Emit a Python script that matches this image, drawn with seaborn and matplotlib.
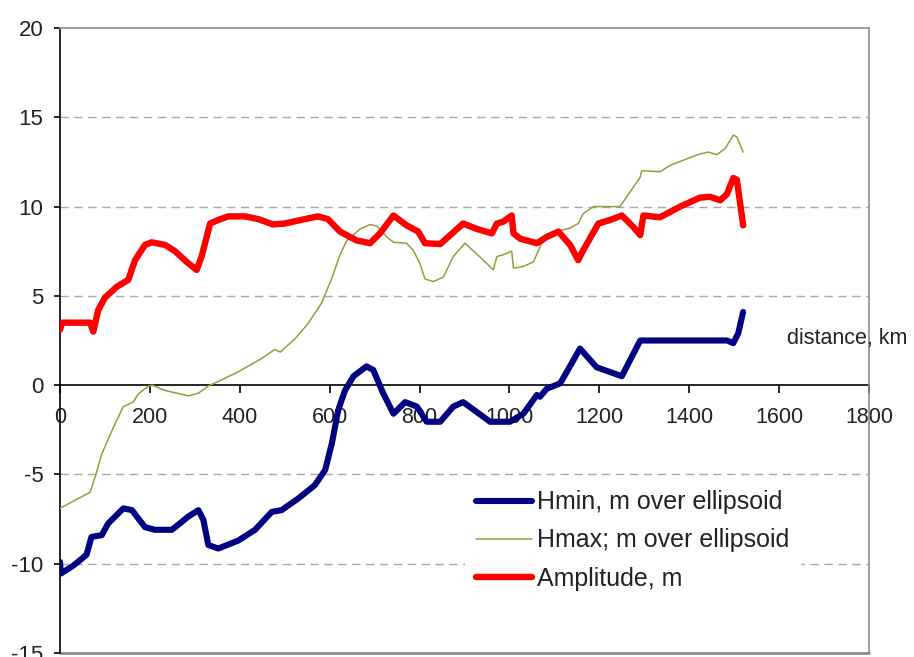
import matplotlib
matplotlib.use("Agg")
import matplotlib.pyplot as plt
import seaborn as sns
import pandas as pd

# ---- data ----
amp_x = [0, 5, 67, 74, 85, 100, 126, 152, 167, 189, 204, 234, 256, 282, 304, 315, 334, 352, 374, 412,
         441, 474, 500, 545, 574, 596, 623, 660, 690, 712, 742, 771, 797, 812, 846, 897, 927, 961, 972,
         986, 1005, 1009, 1024, 1061, 1083, 1109, 1135, 1153, 1164, 1198, 1224, 1250, 1276, 1291, 1298,
         1335, 1380, 1424, 1446, 1469, 1484, 1498, 1506, 1520]
amp_y = [3.1, 3.5, 3.5, 3.0, 4.2, 4.9, 5.5, 5.9, 7.0, 7.85, 8.0, 7.85, 7.5, 6.9, 6.45, 7.2, 9.05, 9.25,
         9.45, 9.45, 9.3, 9.0, 9.05, 9.3, 9.45, 9.3, 8.6, 8.1, 7.95, 8.5, 9.5, 8.95, 8.6, 7.95, 7.9, 9.05,
         8.75, 8.5, 9.05, 9.15, 9.5, 8.5, 8.2, 7.95, 8.3, 8.6, 7.85, 7.0, 7.55, 9.05, 9.25, 9.5, 8.85, 8.4,
         9.5, 9.4, 10.0, 10.5, 10.55, 10.35, 10.7, 11.6, 11.5, 8.95]

hmax_x = [0, 33, 67, 78, 93, 119, 141, 163, 174, 197, 205, 234, 286, 308, 330, 360, 397, 449, 478, 490,
          523, 552, 582, 605, 623, 638, 668, 690, 705, 727, 742, 771, 786, 801, 812, 831, 853, 875, 901,
          927, 950, 964, 972, 986, 1005, 1009, 1031, 1053, 1072, 1105, 1135, 1153, 1164, 1187, 1246, 1291,
          1294, 1305, 1335, 1357, 1387, 1424, 1443, 1461, 1480, 1498, 1506, 1520]
hmax_y = [-6.9, -6.45, -6.0, -5.15, -3.85, -2.35, -1.2, -0.95, -0.5, -0.05, 0.0, -0.3, -0.6, -0.45, -0.05,
          0.3, 0.75, 1.5, 2.0, 1.85, 2.6, 3.45, 4.6, 6.0, 7.3, 8.1, 8.75, 9.0, 8.9, 8.3, 8.0, 7.95, 7.55, 6.8,
          5.95, 5.8, 6.05, 7.2, 7.95, 7.35, 6.8, 6.45, 7.2, 7.3, 7.5, 6.55, 6.65, 6.9, 7.95, 8.6, 8.8, 9.05,
          9.6, 10.0, 10.0, 11.65, 12.0, 12.0, 11.95, 12.3, 12.6, 12.95, 13.05, 12.9, 13.25, 14.0, 13.9, 13.05]

hmin_x = [0, 2, 30, 59, 70, 93, 107, 141, 160, 189, 211, 249, 286, 308, 319, 330, 352, 397, 434, 471,
          493, 530, 567, 590, 605, 619, 634, 653, 682, 697, 719, 742, 768, 794, 816, 846, 875, 897, 927,
          957, 1001, 1031, 1061, 1068, 1083, 1113, 1157, 1194, 1250, 1291, 1484, 1498, 1509, 1520]
hmin_y = [-9.9, -10.55, -10.1, -9.5, -8.5, -8.4, -7.75, -6.9, -7.0, -7.95, -8.1, -8.1, -7.35, -7.0, -7.55,
          -8.95, -9.15, -8.7, -8.1, -7.1, -7.0, -6.35, -5.6, -4.75, -3.25, -1.4, -0.3, 0.5, 1.05, 0.85,
          -0.45, -1.6, -0.95, -1.2, -2.05, -2.05, -1.2, -0.95, -1.5, -2.05, -2.05, -1.6, -0.55, -0.65,
          -0.2, 0.1, 2.05, 1.0, 0.5, 2.5, 2.5, 2.35, 2.9, 4.1]

x_ticks = [0, 200, 400, 600, 800, 1000, 1200, 1400, 1600, 1800]
y_ticks = [-15, -10, -5, 0, 5, 10, 15, 20]
labels = ["Hmin, m over ellipsoid", "Hmax; m over ellipsoid", "Amplitude, m"]
x_label = "distance, km"

# ---- style ----
sns.set_theme(style="white")
plt.rcParams["font.family"] = ["Liberation Sans", "DejaVu Sans"]
plt.rcParams["axes.unicode_minus"] = False

fig = plt.figure(figsize=(9.14, 6.57), dpi=100)
ax = fig.add_axes([60 / 914, 4 / 657, 809 / 914, 625 / 657])

c_min, c_max, c_amp = "#000080", "#9a9a3c", "#FF0000"

df_min = pd.DataFrame({"x": hmin_x, "y": hmin_y})
df_max = pd.DataFrame({"x": hmax_x, "y": hmax_y})
df_amp = pd.DataFrame({"x": amp_x, "y": amp_y})

sns.lineplot(data=df_min, x="x", y="y", ax=ax, color=c_min, lw=4.4, sort=False,
             estimator=None, label=labels[0], zorder=3)
sns.lineplot(data=df_max, x="x", y="y", ax=ax, color=c_max, lw=1.1, sort=False,
             estimator=None, label=labels[1], zorder=3)
sns.lineplot(data=df_amp, x="x", y="y", ax=ax, color=c_amp, lw=4.6, sort=False,
             estimator=None, label=labels[2], zorder=3)

ax.set_xlim(0, 1800)
ax.set_ylim(-15, 20)
ax.set_xticks(x_ticks)
ax.set_yticks(y_ticks)
ax.set_xlabel("")
ax.set_ylabel("")

# gridlines (dashed) except at 0
for yv in y_ticks:
    if yv not in (0, -15, 20):
        ax.axhline(yv, color="#a8a8a8", lw=1.0, ls=(0, (6, 4)), zorder=1)

# spines
ax.spines["left"].set_color("black")
ax.spines["left"].set_linewidth(1.2)
ax.spines["bottom"].set_position(("data", 0))
ax.spines["bottom"].set_color("black")
ax.spines["bottom"].set_linewidth(1.2)
ax.spines["bottom"].set_zorder(2)
for s in ("top", "right"):
    ax.spines[s].set_color("#8c8c8c")
    ax.spines[s].set_linewidth(1.2)
ax.axhline(-15, color="#8c8c8c", lw=2.0, zorder=2, clip_on=False)

ax.tick_params(axis="y", direction="out", length=4, width=1.2, color="black",
               labelsize=16, labelcolor="#222222", pad=8, left=True)
ax.tick_params(axis="x", direction="out", length=6, width=1.2, color="black",
               labelsize=15.5, labelcolor="#222222", pad=10, bottom=True)

ax.text(1618, 2.6, x_label, fontsize=15.5, color="#222222", ha="left", va="center",
        clip_on=False)

leg = ax.legend(loc="center left", bbox_to_anchor=(465 / 914, (657 - 540.5) / 657),
                bbox_transform=fig.transFigure, fontsize=18, frameon=True,
                framealpha=1.0, facecolor="white", edgecolor="none", fancybox=False,
                borderpad=0.45, handlelength=2.24, handletextpad=0.2, labelspacing=0.57,
                borderaxespad=0)
leg.set_zorder(5)
for t in leg.get_texts():
    t.set_color("#222222")

fig.savefig("out.png", dpi=100)
